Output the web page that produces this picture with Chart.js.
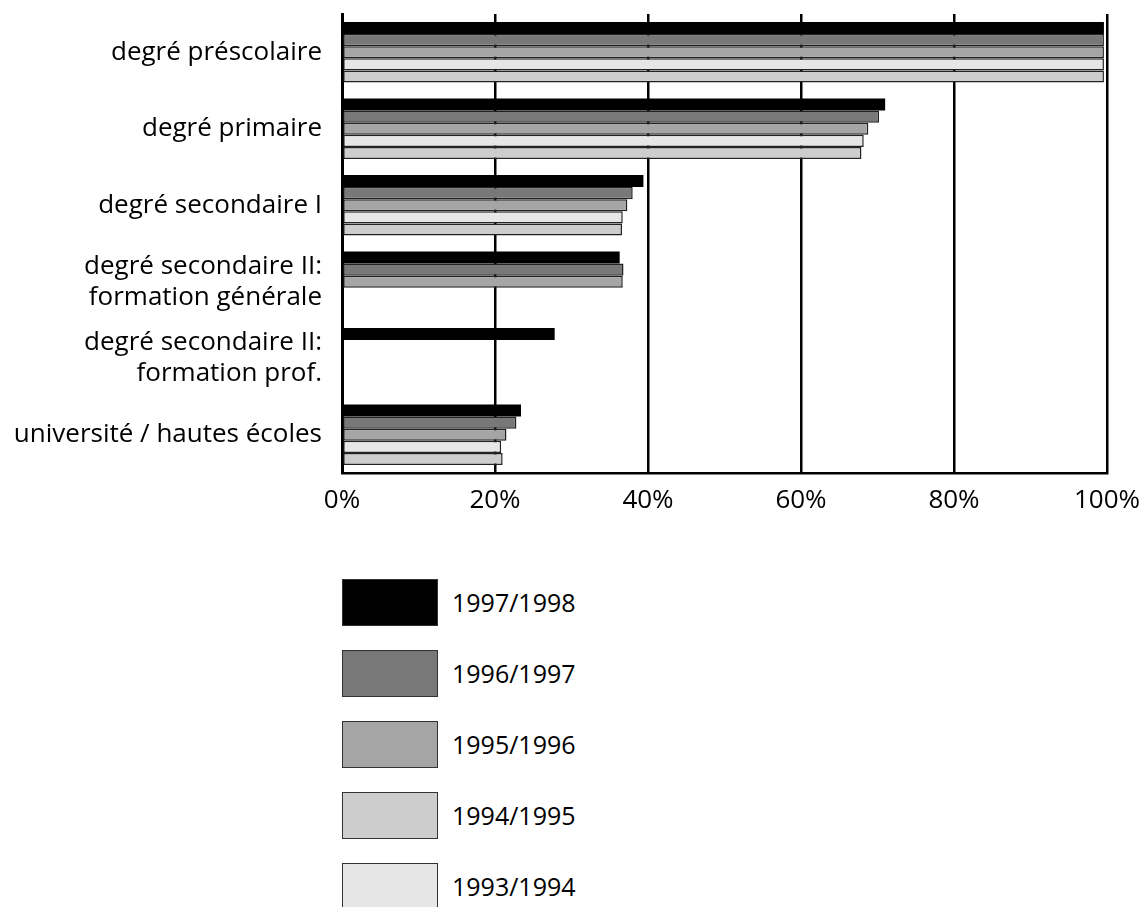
<!DOCTYPE html>
<html>
<head>
<meta charset="utf-8">
<script src="https://cdn.jsdelivr.net/npm/chart.js@4"></script>
<style>
  body { margin: 0; background: #fff; font-family: "Open Sans", sans-serif; }
  #wrap { position: relative; width: 1144px; height: 907px; }
  #legend { position: absolute; left: 342px; top: 578px; }
  .item { display: flex; align-items: center; height: 48px; margin-bottom: 23px; }
  .box { width: 96px; height: 47px; border: 1px solid #333; box-sizing: border-box; }
  .txt { margin-left: 14px; font-size: 25px; color: #000; }
</style>
</head>
<body>
<div id="wrap">
  <canvas id="chart" width="1144" height="530"></canvas>
  <div id="legend"></div>
</div>
<script>
const categories = [
    "degré préscolaire",
    "degré primaire",
    "degré secondaire I",
    ["degré secondaire II:", "formation générale"],
    ["degré secondaire II:", "formation prof."],
    "université / hautes écoles"
];
const xTicks = [0, 20, 40, 60, 80, 100];

// bars, top to bottom inside each group
const seriesLabels = ["1997/1998", "1996/1997", "1995/1996", "1993/1994", "1994/1995"];
const seriesColors = ["#000000", "#787878", "#a5a5a5", "#e6e6e6", "#cdcdcd"];
const v1997 = [99.6, 71.0, 39.4, 36.3, 27.8, 23.4];
const v1996 = [99.6, 70.2, 38.0, 36.8, null, 22.8];
const v1995 = [99.6, 68.8, 37.3, 36.7, null, 21.5];
const v1993 = [99.6, 68.2, 36.7, null, null, 20.8];
const v1994 = [99.6, 67.9, 36.6, null, null, 21.0];
const seriesValues = [v1997, v1996, v1995, v1993, v1994];

// legend order as in the original
const legendLabels = ["1997/1998", "1996/1997", "1995/1996", "1994/1995", "1993/1994"];

const datasets = seriesLabels.map((lbl, i) => ({
    label: lbl,
    data: seriesValues[i],
    backgroundColor: seriesColors[i],
    borderColor: "#222",
    borderWidth: i === 0 ? 0 : 1.5,
    borderSkipped: false,
    categoryPercentage: 0.79,
    barPercentage: 1.0
}));

const ctx = document.getElementById("chart").getContext("2d");
new Chart(ctx, {
    type: "bar",
    data: { labels: categories, datasets: datasets },
    options: {
        indexAxis: "y",
        responsive: false,
        animation: false,
        layout: { padding: { top: 14, right: 37, left: 0, bottom: 0 } },
        plugins: {
            legend: { display: false },
            tooltip: { enabled: false }
        },
        scales: {
            x: {
                min: 0,
                max: 100,
                afterBuildTicks: (scale) => { scale.ticks = xTicks.map(v => ({ value: v })); },
                afterFit: (scale) => {
                    scale.height = 57;
                    scale.paddingLeft = 0;
                    scale.paddingRight = 0;
                },
                grid: { color: "#000", lineWidth: 2.5, drawTicks: false },
                border: { display: true, color: "#000", width: 2.5 },
                ticks: {
                    padding: 12,
                    color: "#000",
                    font: { family: "Open Sans", size: 26 },
                    callback: (v) => v + "%"
                }
            },
            y: {
                afterFit: (scale) => {
                    scale.width = 342;
                    scale.paddingTop = 0;
                    scale.paddingBottom = 0;
                },
                grid: { display: false },
                border: { display: true, color: "#000", width: 3 },
                ticks: {
                    padding: 12,
                    color: "#000",
                    font: { family: "Open Sans", size: 26, lineHeight: 1.2 }
                }
            }
        }
    }
});

const legendEl = document.getElementById("legend");
legendLabels.forEach(lbl => {
    const idx = seriesLabels.indexOf(lbl);
    const item = document.createElement("div");
    item.className = "item";
    item.innerHTML = `<div class="box" style="background:${seriesColors[idx]}"></div><span class="txt">${lbl}</span>`;
    legendEl.appendChild(item);
});
</script>
</body>
</html>
